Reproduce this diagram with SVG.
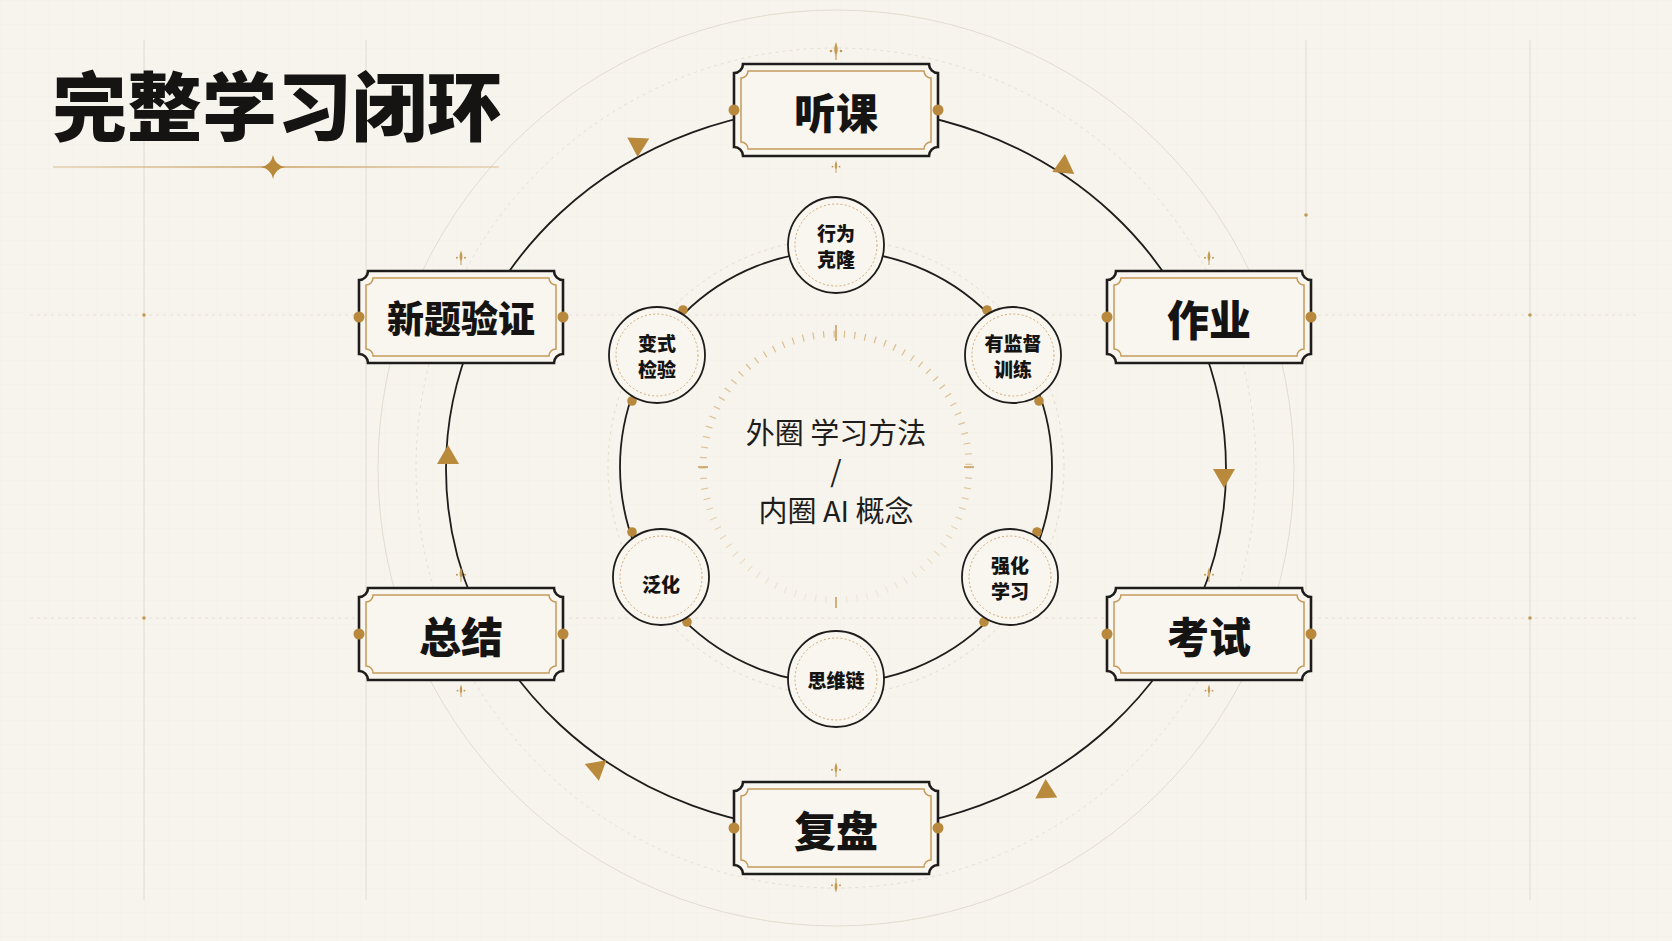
<svg xmlns="http://www.w3.org/2000/svg" xmlns:xlink="http://www.w3.org/1999/xlink" width="1672" height="941" viewBox="0 0 1672 941">
<style>
.bg{fill:#f7f4ee}
.frameO{fill:#f9f6f0;stroke:#1e1d1b;stroke-width:2.6}
.frameI{fill:none;stroke:#c49a5a;stroke-width:1.5}
.gdot{fill:#b8883c}
.lbl{font-family:"Noto Sans CJK SC","Noto Serif CJK SC",sans-serif;font-weight:900;fill:#151412;text-anchor:middle;dominant-baseline:central}
.ilbl{font-family:"Noto Sans CJK SC",sans-serif;font-weight:900;fill:#151412;text-anchor:middle;dominant-baseline:central;font-size:19px}
.ncO{fill:#f9f6f0;stroke:#1e1d1b;stroke-width:1.8}
.ncI{fill:none;stroke:#d2aa74;stroke-width:1;stroke-dasharray:2 2.2}
.ring{fill:none;stroke:#1e1d1b;stroke-width:1.8}
.faint{fill:none;stroke:#e3dccf;stroke-width:1}
.fdash{fill:none;stroke:#ddd4c4;stroke-width:1;stroke-dasharray:3 4}
.arrow{fill:#b98a3c}
.orn{fill:#c39a55}
.ctr{font-family:"Noto Sans CJK SC",sans-serif;font-weight:400;fill:#1e1d1b;text-anchor:middle;dominant-baseline:central;font-size:29px}
</style>
<defs>
<pattern id="grid" width="24" height="24" patternUnits="userSpaceOnUse">
<path d="M24 0H0V24" fill="none" stroke="#efeae1" stroke-width="0.6"/>
</pattern>
<path id="frameOut" d="M -93,-46 H 93 A 9 9 0 0 0 102,-37 V 37 A 9 9 0 0 0 93,46 H -93 A 9 9 0 0 0 -102,37 V -37 A 9 9 0 0 0 -93,-46 Z"/>
<path id="frameIn" d="M -88,-39 H 88 A 7 7 0 0 0 95,-32 V 32 A 7 7 0 0 0 88,39 H -88 A 7 7 0 0 0 -95,32 V -32 A 7 7 0 0 0 -88,-39 Z"/>
<g id="orn">
<path d="M0,-8 C1.6,-3 3,0 0,6 C-3,0 -1.6,-3 0,-8 Z"/>
<circle cx="-5" cy="1" r="1.3"/><circle cx="5" cy="1" r="1.3"/>
<rect x="-0.6" y="5" width="1.2" height="5"/>
</g>
<g id="frame">
<use href="#frameOut" class="frameO"/>
<use href="#frameIn" class="frameI"/>
<circle cx="-102" cy="0" r="5.5" class="gdot"/>
<circle cx="102" cy="0" r="5.5" class="gdot"/>
</g>
<g id="inode">
<circle r="48" class="ncO"/>
<circle r="41" class="ncI"/>
</g>
<path id="tri" d="M11,0 L-8,-11 L-8,11 Z"/>
<linearGradient id="gline" gradientUnits="userSpaceOnUse" x1="53" y1="0" x2="499" y2="0">
<stop offset="0" stop-color="#d7b88a" stop-opacity="0.6"/>
<stop offset="0.5" stop-color="#c9a062"/>
<stop offset="1" stop-color="#d7b88a" stop-opacity="0.6"/>
</linearGradient>
<linearGradient id="fadeG" x1="0" y1="0" x2="0" y2="1">
<stop offset="0" stop-color="#fff" stop-opacity="1"/>
<stop offset="0.55" stop-color="#fff" stop-opacity="0.8"/>
<stop offset="1" stop-color="#fff" stop-opacity="0.1"/>
</linearGradient>
<mask id="fadeM" maskUnits="userSpaceOnUse" x="690" y="320" width="300" height="300">
<rect x="690" y="320" width="300" height="300" fill="url(#fadeG)"/>
</mask>
</defs>

<rect class="bg" width="1672" height="941"/>
<rect fill="url(#grid)" width="1672" height="941" opacity="0.7"/>

<g id="background-guides">
<line x1="144" y1="40" x2="144" y2="900" class="faint"/>
<line x1="366" y1="40" x2="366" y2="900" class="faint"/>
<line x1="1306" y1="40" x2="1306" y2="900" class="faint"/>
<line x1="1530" y1="40" x2="1530" y2="900" class="faint"/>
<line x1="30" y1="315" x2="1640" y2="315" class="fdash" opacity="0.6"/>
<line x1="30" y1="618" x2="1640" y2="618" class="fdash" opacity="0.6"/>
<circle cx="144" cy="315" r="1.8" class="orn"/>
<circle cx="144" cy="618" r="1.8" class="orn"/>
<circle cx="1530" cy="315" r="1.8" class="orn"/>
<circle cx="1530" cy="618" r="1.8" class="orn"/>
<circle cx="1306" cy="215" r="1.8" class="orn"/>
<circle cx="836" cy="468" r="458" class="faint"/>
<circle cx="836" cy="468" r="420" class="fdash" opacity="0.7"/>
</g>

<g id="title">
<text x="52" y="102" class="lbl" style="text-anchor:start;font-size:75px">完整学习闭环</text>
<line x1="53" y1="167" x2="499" y2="167" stroke="url(#gline)" stroke-width="1.6"/>
<path d="M273,155 Q275,165 285,167 Q275,169 273,179 Q271,169 261,167 Q271,165 273,155 Z" fill="#b98a3c"/>
</g>

<g id="connectors">
<ellipse cx="836" cy="469" rx="390" ry="362" class="ring" stroke-width="2"/>
<circle cx="836" cy="467" r="228" class="fdash" opacity="0.8"/>
<circle cx="836" cy="467" r="216" class="ring" stroke-width="1.6"/>
<use href="#tri" class="arrow" transform="translate(638,146) rotate(92)"/>
<use href="#tri" class="arrow" transform="translate(1064,165) rotate(-85)"/>
<use href="#tri" class="arrow" transform="translate(1224,477) rotate(90)"/>
<use href="#tri" class="arrow" transform="translate(1046,790) rotate(-92)"/>
<use href="#tri" class="arrow" transform="translate(597,770) rotate(80)"/>
<use href="#tri" class="arrow" transform="translate(448,456) rotate(-90)"/>
</g>

<g id="center">
<g mask="url(#fadeM)">
<circle cx="836" cy="467" r="133" fill="none" stroke="#d3ad72" stroke-width="7" stroke-dasharray="1.2 9.2" opacity="0.8"/>
</g>
<line x1="836" y1="325" x2="836" y2="341" stroke="#c9a062" stroke-width="1.6"/>
<line x1="836" y1="597" x2="836" y2="608" stroke="#c9a062" stroke-width="1.6"/>
<line x1="698" y1="467" x2="708" y2="467" stroke="#c9a062" stroke-width="1.6"/>
<line x1="964" y1="467" x2="974" y2="467" stroke="#c9a062" stroke-width="1.6"/>
<text x="836" y="431" class="ctr">外圈 学习方法</text>
<text x="836" y="469" class="ctr">/</text>
<text x="836" y="509" class="ctr">内圈 AI 概念</text>
</g>

<g id="inner-dots">
<circle cx="683" cy="310" r="4.8" class="gdot"/>
<circle cx="987" cy="310" r="4.8" class="gdot"/>
<circle cx="632" cy="401" r="4.8" class="gdot"/>
<circle cx="1039" cy="401" r="4.8" class="gdot"/>
<circle cx="632" cy="532" r="4.8" class="gdot"/>
<circle cx="1037" cy="532" r="4.8" class="gdot"/>
<circle cx="687" cy="622" r="4.8" class="gdot"/>
<circle cx="984" cy="622" r="4.8" class="gdot"/>
</g>

<g id="node-xingwei" transform="translate(836,245)">
<use href="#inode"/>
<text y="-13" class="ilbl">行为</text>
<text y="13" class="ilbl">克隆</text>
</g>
<g id="node-jiandu" transform="translate(1013,355)">
<use href="#inode"/>
<text y="-13" class="ilbl">有监督</text>
<text y="13" class="ilbl">训练</text>
</g>
<g id="node-qianghua" transform="translate(1010,577)">
<use href="#inode"/>
<text y="-13" class="ilbl">强化</text>
<text y="13" class="ilbl">学习</text>
</g>
<g id="node-siwei" transform="translate(836,679)">
<use href="#inode"/>
<text y="0" class="ilbl">思维链</text>
</g>
<g id="node-fanhua" transform="translate(661,577)">
<use href="#inode"/>
<text y="6" class="ilbl">泛化</text>
</g>
<g id="node-bianshi" transform="translate(657,355)">
<use href="#inode"/>
<text y="-13" class="ilbl">变式</text>
<text y="13" class="ilbl">检验</text>
</g>

<g id="node-tingke" transform="translate(836,110)">
<use href="#frame"/>
<use href="#orn" class="orn" transform="translate(0,-60)"/>
<use href="#orn" class="orn" transform="translate(0,56) scale(0.7)"/>
<text y="0" class="lbl" style="font-size:42px">听课</text>
</g>
<g id="node-zuoye" transform="translate(1209,317)">
<use href="#frame"/>
<use href="#orn" class="orn" transform="translate(0,-60) scale(0.8)"/>
<text y="0" class="lbl" style="font-size:42px">作业</text>
</g>
<g id="node-kaoshi" transform="translate(1209,634)">
<use href="#frame"/>
<use href="#orn" class="orn" transform="translate(0,-60) scale(0.8)"/>
<use href="#orn" class="orn" transform="translate(0,56) scale(0.7)"/>
<text y="0" class="lbl" style="font-size:42px">考试</text>
</g>
<g id="node-fupan" transform="translate(836,828)">
<use href="#frame"/>
<use href="#orn" class="orn" transform="translate(0,-59) scale(0.8)"/>
<use href="#orn" class="orn" transform="translate(0,58) rotate(180) scale(0.8)"/>
<text y="0" class="lbl" style="font-size:42px">复盘</text>
</g>
<g id="node-zongjie" transform="translate(461,634)">
<use href="#frame"/>
<use href="#orn" class="orn" transform="translate(0,-60) scale(0.8)"/>
<use href="#orn" class="orn" transform="translate(0,56) scale(0.7)"/>
<text y="0" class="lbl" style="font-size:42px">总结</text>
</g>
<g id="node-xinti" transform="translate(461,317)">
<use href="#frame"/>
<use href="#orn" class="orn" transform="translate(0,-60) scale(0.8)"/>
<text y="0" class="lbl" style="font-size:37px">新题验证</text>
</g>
</svg>
